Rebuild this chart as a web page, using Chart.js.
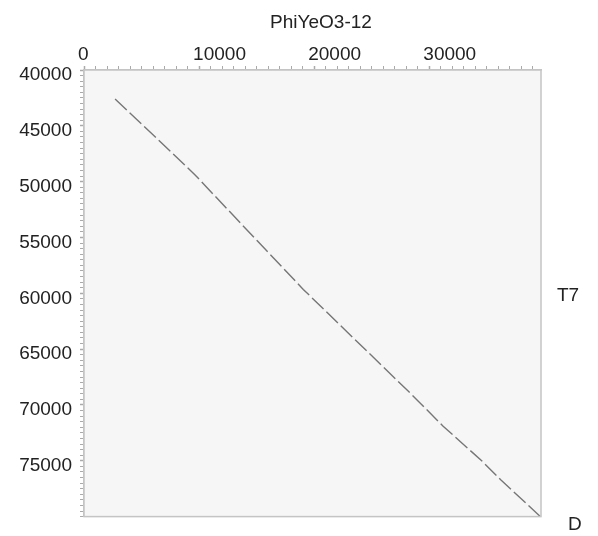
<!DOCTYPE html>
<html>
<head>
<meta charset="utf-8">
<script src="https://cdn.jsdelivr.net/npm/chart.js@4"></script>
<style>
  body { margin: 0; background: #fff; }
  canvas { display: block; }
</style>
</head>
<body>
<canvas id="dotPlot" width="598" height="536"></canvas>
<script>
// --- data ---
const xTitle = 'PhiYeO3-12';
const yLabelTop = 'T7';
const yLabelBottom = 'D';
const xMin = 0, xMax = 39700;
const yMin = 40000, yMax = 80000;
const xLabelTicks = [0, 10000, 20000, 30000];
const yLabelTicks = [40000, 45000, 50000, 55000, 60000, 65000, 70000, 75000];
const xMinorStep = 1000;
const yMinorStep = 500;
// main diagonal (PhiYeO3-12 position vs T7 position)
const matchX = [2700, 6200, 9650, 15050, 19050, 23400, 28350, 31200, 34600, 36200, 39650];
const matchY = [42600, 46000, 49400, 55300, 59650, 64000, 68950, 71900, 75050, 76700, 80000];

const FONT = "'Liberation Sans', Arial, Helvetica, sans-serif";

// light background + frame + side texts
const framePlugin = {
    id: 'frame',
    beforeDatasetsDraw(chart) {
        const { ctx, chartArea: a } = chart;
        ctx.save();
        ctx.fillStyle = '#f6f6f6';
        ctx.fillRect(a.left, a.top, a.right - a.left, a.bottom - a.top);
        ctx.restore();
    },
    afterDraw(chart) {
        const { ctx, chartArea: a } = chart;
        ctx.save();
        ctx.strokeStyle = '#c4c4c4';
        ctx.lineWidth = 1.5;
        ctx.strokeRect(a.left, a.top, a.right - a.left, a.bottom - a.top);
        ctx.fillStyle = '#222';
        ctx.font = '19px ' + FONT;
        ctx.textBaseline = 'middle';
        ctx.textAlign = 'center';
        ctx.fillText(xTitle, 321, 23);
        ctx.textAlign = 'left';
        ctx.fillText(yLabelTop, 557, 296);
        ctx.fillText(yLabelBottom, 568, 525);
        ctx.restore();
    }
};

function isLabelTick(list, v) {
    return list.some(t => Math.abs(t - v) < 1);
}

// minor tick marks every step, labels only on the listed values
function stepTicks(min, max, step) {
    const out = [];
    for (let v = Math.ceil(min / step) * step; v <= max; v += step) out.push({ value: v });
    return out;
}

new Chart(document.getElementById('dotPlot').getContext('2d'), {
    type: 'scatter',
    data: {
        datasets: [{
            data: matchX.map((x, i) => ({ x: x, y: matchY[i] })),
            showLine: true,
            borderColor: 'rgba(95, 95, 95, 0.85)',
            borderWidth: 1.4,
            borderDash: [16, 4],
            pointRadius: 0,
            fill: false
        }]
    },
    options: {
        responsive: false,
        animation: false,
        layout: { padding: { top: 0, left: 0, right: 57, bottom: 6 } },
        plugins: { legend: { display: false }, tooltip: { enabled: false } },
        scales: {
            x: {
                type: 'linear',
                position: 'top',
                min: xMin,
                max: xMax,
                afterBuildTicks: s => { s.ticks = stepTicks(xMin, xMax, xMinorStep); },
                afterFit: s => { s.height = 70; },
                border: { color: '#c4c4c4', width: 1.5 },
                grid: {
                    drawOnChartArea: false,
                    tickLength: 4,
                    tickColor: '#aaa',
                    tickWidth: c => (c.tick && isLabelTick(xLabelTicks, c.tick.value) ? 1.5 : 1)
                },
                ticks: {
                    autoSkip: false,
                    maxRotation: 0,
                    align: 'start',
                    labelOffset: -6,
                    padding: 0,
                    color: '#222',
                    font: { size: 19, family: FONT },
                    callback: v => (isLabelTick(xLabelTicks, v) ? String(Math.round(v)) : '')
                }
            },
            y: {
                type: 'linear',
                position: 'left',
                reverse: true,
                min: yMin,
                max: yMax,
                afterBuildTicks: s => { s.ticks = stepTicks(yMin, yMax, yMinorStep); },
                afterFit: s => { s.width = 84; },
                border: { color: '#c4c4c4', width: 1.5 },
                grid: {
                    drawOnChartArea: false,
                    tickLength: 4,
                    tickColor: '#aaa',
                    tickWidth: c => (c.tick && isLabelTick(yLabelTicks, c.tick.value) ? 1.5 : 1)
                },
                ticks: {
                    autoSkip: false,
                    labelOffset: 5,
                    padding: 8,
                    color: '#222',
                    font: { size: 19, family: FONT },
                    callback: v => (isLabelTick(yLabelTicks, v) ? String(Math.round(v)) : '')
                }
            }
        }
    },
    plugins: [framePlugin]
});
</script>
</body>
</html>
